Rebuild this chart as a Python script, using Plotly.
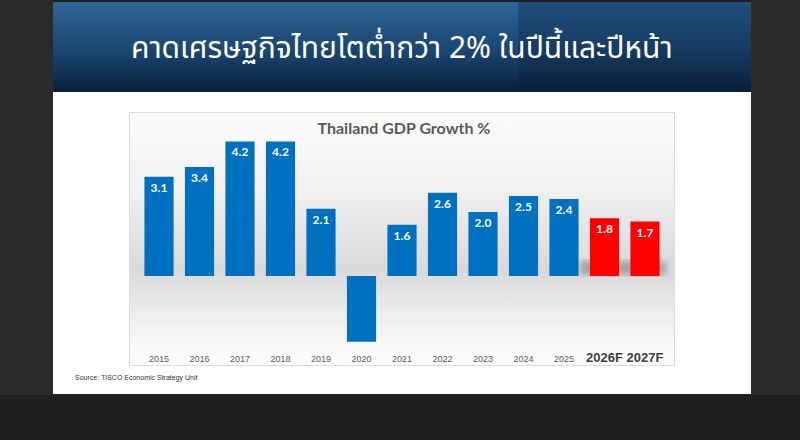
import base64
import plotly.graph_objects as go

# ข้อมูล GDP ไทย (%), 2020 ถูกตัดด้วยแกน (ไม่มีป้าย)
years = ["2015", "2016", "2017", "2018", "2019", "2020", "2021",
         "2022", "2023", "2024", "2025", "2026F", "2027F"]
growth = [3.1, 3.4, 4.2, 4.2, 2.1, -6.1, 1.6, 2.6, 2.0, 2.5, 2.4, 1.8, 1.7]
is_forecast = [False] * 11 + [True, True]
show_label = [True] * 5 + [False] + [True] * 7

headline = "คาดเศรษฐกิจไทยโตต่ำกว่า 2% ในปีนี้และปีหน้า"
chart_title = "Thailand GDP Growth %"
source_note = "Source: TISCO Economic Strategy Unit"

W, H = 800, 440

# พื้นหลังสไลด์ (gradient) เป็น SVG
bg_svg = f"""<svg xmlns="http://www.w3.org/2000/svg" width="{W}" height="{H}" viewBox="0 0 {W} {H}">
<defs>
<linearGradient id="hl" x1="0" y1="0" x2="0" y2="1">
<stop offset="0" stop-color="#2f6597"/><stop offset="0.55" stop-color="#1a4570"/><stop offset="1" stop-color="#0a1f3b"/>
</linearGradient>
<linearGradient id="hr" x1="0" y1="0" x2="0" y2="1">
<stop offset="0" stop-color="#1f4e7b"/><stop offset="0.55" stop-color="#153a60"/><stop offset="1" stop-color="#0a1f38"/>
</linearGradient>
<linearGradient id="cb" x1="0" y1="0" x2="0" y2="1">
<stop offset="0" stop-color="#fcfcfc"/><stop offset="0.3" stop-color="#f1f1f1"/>
<stop offset="0.62" stop-color="#d9d9d9"/><stop offset="0.85" stop-color="#f3f3f3"/>
<stop offset="1" stop-color="#ffffff"/>
</linearGradient>
<filter id="blur"><feGaussianBlur stdDeviation="3"/></filter>
</defs>
<rect width="{W}" height="{H}" fill="#1f1e21"/>
<rect x="0" y="0" width="53" height="395" fill="#2b2a28"/>
<rect x="751" y="0" width="49" height="395" fill="#2b2b2b"/>
<rect x="53" y="2" width="698" height="392" fill="#ffffff"/>
<rect x="53" y="2" width="465" height="90" fill="url(#hl)"/>
<rect x="518" y="2" width="233" height="90" fill="url(#hr)"/>
<rect x="129.5" y="112.5" width="545" height="253" fill="url(#cb)" stroke="#dcdcdc" stroke-width="1"/>
<rect x="580" y="261" width="86" height="14" fill="#8c8c8c" opacity="0.7" filter="url(#blur)"/>
</svg>"""
bg_uri = "data:image/svg+xml;base64," + base64.b64encode(bg_svg.encode("utf-8")).decode()

colors = ["#ff0000" if f else "#0070c0" for f in is_forecast]
labels = [f"{v:.1f}" if s else "" for v, s in zip(growth, show_label)]
tick_text = [f"<b><span style='font-size:13px;fill:#404040'>{y}</span></b>" if f else y
             for y, f in zip(years, is_forecast)]

fig = go.Figure()
fig.add_trace(go.Bar(
    x=years, y=growth,
    marker=dict(color=colors, line=dict(width=0)),
    text=labels, textposition="inside", insidetextanchor="end",
    textangle=0, constraintext="none",
    textfont=dict(family="Lato, Open Sans, sans-serif", size=12, color="white", weight="bold"),
    hoverinfo="skip",
))

fig.update_layout(
    width=W, height=H,
    margin=dict(l=0, r=0, t=0, b=0),
    paper_bgcolor="#1f1e21", plot_bgcolor="rgba(0,0,0,0)",
    showlegend=False, bargap=0.28,
    title=dict(text=f"<b>{chart_title}</b>", x=404 / W, y=1 - 128 / H,
               xanchor="center", yanchor="middle",
               font=dict(family="Lato, Open Sans, sans-serif", size=16, color="#595959")),
    xaxis=dict(domain=[138.75 / W, 665.25 / W], type="category",
               tickvals=years, ticktext=tick_text, ticks="", showgrid=False,
               showline=False, zeroline=False, ticklabelstandoff=10,
               tickfont=dict(family="Liberation Sans, Arial, sans-serif", size=9, color="#595959")),
    yaxis=dict(domain=[1 - 341.7 / H, 1 - 128.6 / H], range=[-2.05, 4.6],
               visible=False, showgrid=False, zeroline=False),
    images=[dict(source=bg_uri, xref="paper", yref="paper", x=0, y=1,
                 sizex=1, sizey=1, sizing="stretch", xanchor="left", yanchor="top",
                 layer="below")],
    annotations=[
        dict(text=headline, x=402 / W, y=1 - 49 / H, xref="paper", yref="paper",
             xanchor="center", yanchor="middle", showarrow=False,
             font=dict(family="Noto Sans Thai, Noto Sans Thai Looped, Loma, Garuda, sans-serif",
                       size=30, color="white")),
        dict(text=source_note, x=73 / W, y=1 - 378 / H, xref="paper", yref="paper",
             xanchor="left", yanchor="middle", showarrow=False,
             font=dict(family="Liberation Sans, Arial, sans-serif", size=7, color="#333333")),
    ],
)

# เอา margin ของ body ออก ให้กราฟชิดขอบหน้าต่าง
fig.write_html("out.html", config={"displayModeBar": False},
               post_script="document.body.style.margin='0';")
